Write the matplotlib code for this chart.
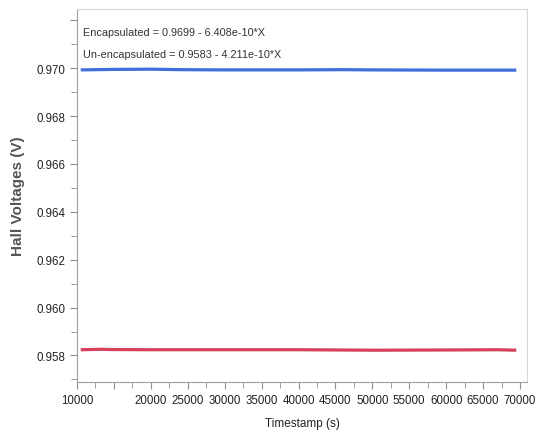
import matplotlib.pyplot as plt
from matplotlib.ticker import MultipleLocator, FixedLocator, FixedFormatter

plt.rcParams['font.family'] = ['Liberation Sans', 'DejaVu Sans']

# readings taken off the chart
enc_t = [10500, 15000, 20000, 24000, 30000, 40000, 46000, 50000, 60000, 69500]
enc_v = [0.96993, 0.96995, 0.96996, 0.96994, 0.96993, 0.96993, 0.96994, 0.96993, 0.96992, 0.96992]
unenc_t = [10500, 13500, 14000, 20000, 30000, 40000, 50500, 60000, 67000, 69500]
unenc_v = [0.95824, 0.95826, 0.95825, 0.95824, 0.95824, 0.95824, 0.95822, 0.95823, 0.95824, 0.95822]

eq_enc = "Encapsulated = 0.9699 - 6.408e-10*X"
eq_unenc = "Un-encapsulated = 0.9583 - 4.211e-10*X"

xticks = [10000, 15000, 20000, 25000, 30000, 35000, 40000, 45000, 50000, 55000, 60000, 65000, 70000]
xlabels = ["10000", "", "20000", "25000", "30000", "35000", "40000", "45000", "50000", "55000", "60000", "65000", "70000"]
yticks = [0.958, 0.960, 0.962, 0.964, 0.966, 0.968, 0.970, 0.972]
ylabels = ["0.958", "0.960", "0.962", "0.964", "0.966", "0.968", "0.970", ""]

fig = plt.figure(figsize=(5.35, 4.39), dpi=100)
ax = fig.add_axes([0.144, 0.128, 0.841, 0.849])

ax.plot(enc_t, enc_v, color='#4170dc', lw=2.3, solid_capstyle='butt')
ax.plot(unenc_t, unenc_v, color='#d6405a', lw=2.3, solid_capstyle='butt')

ax.set_xlim(10000, 70950)
ax.set_ylim(0.9569, 0.97247)

ax.xaxis.set_major_locator(FixedLocator(xticks))
ax.xaxis.set_major_formatter(FixedFormatter(xlabels))
ax.xaxis.set_minor_locator(MultipleLocator(2500))
ax.yaxis.set_major_locator(FixedLocator(yticks))
ax.yaxis.set_major_formatter(FixedFormatter(ylabels))
ax.yaxis.set_minor_locator(MultipleLocator(0.001))

ax.tick_params(axis='both', which='major', length=5, color='#909090', labelsize=8.3, labelcolor='#222222')
ax.tick_params(axis='both', which='minor', length=4, color='#909090')

for side in ['left', 'bottom']:
    ax.spines[side].set_color('#a0a0a0')
for side in ['top', 'right']:
    ax.spines[side].set_color('#d8d8d8')

ax.text(0.013, 0.938, eq_enc, transform=ax.transAxes, fontsize=7.8, color='#333333', va='center')
ax.text(0.013, 0.879, eq_unenc, transform=ax.transAxes, fontsize=7.8, color='#333333', va='center')

ax.set_xlabel("Timestamp (s)", fontsize=8.5, color='#222222', labelpad=8)
ax.set_ylabel("Hall Voltages (V)", fontsize=11, color='#555555', fontweight='bold', labelpad=8)

fig.savefig("out.png", dpi=100)
